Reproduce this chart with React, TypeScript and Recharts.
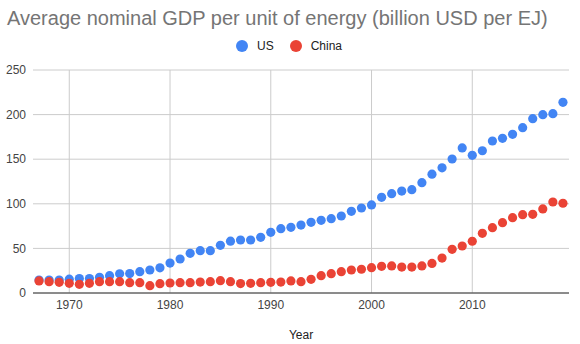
import { ScatterChart, Scatter, XAxis, YAxis, CartesianGrid } from 'recharts';

const years = [
  1967, 1968, 1969, 1970, 1971, 1972, 1973, 1974, 1975, 1976, 1977, 1978, 1979,
  1980, 1981, 1982, 1983, 1984, 1985, 1986, 1987, 1988, 1989, 1990, 1991, 1992,
  1993, 1994, 1995, 1996, 1997, 1998, 1999, 2000, 2001, 2002, 2003, 2004, 2005,
  2006, 2007, 2008, 2009, 2010, 2011, 2012, 2013, 2014, 2015, 2016, 2017, 2018,
  2019,
];

const usValues = [
  14.5, 14.5, 14.6, 15.5, 16.2, 16.2, 17.6, 19.4, 21.5, 21.8, 23.9, 25.8, 28.2,
  33.6, 38.1, 44.5, 47.5, 47.5, 53.5, 58.1, 59.4, 59.4, 62.4, 68, 72.1, 73.6,
  76.2, 79.2, 81.5, 83.3, 86.3, 91.6, 95.3, 98.7, 107.3, 111.3, 114.3, 115.8, 123.7,
  133.2, 140.3, 150.2, 162.6, 154.4, 159.5, 170.4, 173.4, 177.9, 185.3, 195.4, 199.9, 201,
  213.8,
];

const chinaValues = [
  13.5, 12.7, 12, 10.8, 9.7, 10.8, 12.7, 12.7, 12.7, 11.6, 11.6, 8.2, 10.4,
  11.2, 11.6, 11.6, 12.3, 12.7, 13.8, 12.7, 10.6, 10.8, 11.6, 12, 12.3, 13.5,
  12.7, 15.3, 19.4, 21.7, 23.9, 25.8, 26.6, 28.4, 29.9, 30.3, 29.1, 29.1, 30.3,
  33.1, 39.2, 49, 52.7, 58, 66.9, 73.2, 78.8, 84.4, 87.8, 88.2, 94.2, 102,
  100.6,
];

const xTicks = [1970, 1980, 1990, 2000, 2010];
const yTicks = [0, 50, 100, 150, 200, 250];

const series = [
  { name: 'US', color: '#4285F4', values: usValues },
  { name: 'China', color: '#EA4335', values: chinaValues },
];

const font = 'Arial, "Liberation Sans", sans-serif';

const Dot = (props: any) => {
  const { cx, cy, fill } = props;
  if (cx == null || cy == null) return null;
  return <circle cx={cx} cy={cy} r={4.6} fill={fill} />;
};

export default function App() {
  return (
    <div style={{ position: 'relative', width: 580, height: 344, fontFamily: font, background: '#fff' }}>
      <style>{`body{margin:0}`}</style>
      <svg width={580} height={60} style={{ position: 'absolute', left: 0, top: 0 }}>
        <text x={7} y={25} fontSize={20} fill="#757575" fontFamily={font}>
          Average nominal GDP per unit of energy (billion USD per EJ)
        </text>
      </svg>

      {/* legend */}
      <div
        style={{
          position: 'absolute',
          left: 236,
          top: 38,
          display: 'flex',
          alignItems: 'center',
          fontSize: 12,
          color: '#222',
          height: 16,
        }}
      >
        {series.map((s) => (
          <div key={s.name} style={{ display: 'flex', alignItems: 'center', marginRight: 16 }}>
            <span
              style={{ width: 12, height: 12, borderRadius: 6, background: s.color, display: 'inline-block', marginRight: 9 }}
            />
            <span>{s.name}</span>
          </div>
        ))}
      </div>

      <div style={{ position: 'absolute', left: 0, top: 0 }}>
        <ScatterChart width={580} height={344} margin={{ top: 70, right: 11, bottom: 0, left: 0 }}>
          <CartesianGrid stroke="#cccccc" horizontalValues={yTicks} verticalValues={xTicks} />
          <XAxis
            type="number"
            dataKey="x"
            domain={[1966.4, 2019.6]}
            ticks={xTicks}
            allowDataOverflow
            height={51}
            tickLine={false}
            tickSize={0}
            tickMargin={7}
            axisLine={{ stroke: '#333333' }}
            tick={{ fill: '#444444', fontSize: 12, fontFamily: font }}
            label={{ value: 'Year', position: 'insideBottom', offset: 5, fill: '#222222', fontSize: 12, fontFamily: font }}
          />
          <YAxis
            type="number"
            dataKey="y"
            domain={[0, 250]}
            ticks={yTicks}
            width={33}
            tickLine={false}
            tickSize={0}
            tickMargin={7}
            axisLine={false}
            tick={{ fill: '#444444', fontSize: 12, fontFamily: font }}
          />
          {series.map((s) => (
            <Scatter
              key={s.name}
              name={s.name}
              data={years.map((yr, i) => ({ x: yr, y: s.values[i] }))}
              fill={s.color}
              shape={<Dot />}
              isAnimationActive={false}
            />
          ))}
        </ScatterChart>
      </div>
    </div>
  );
}
